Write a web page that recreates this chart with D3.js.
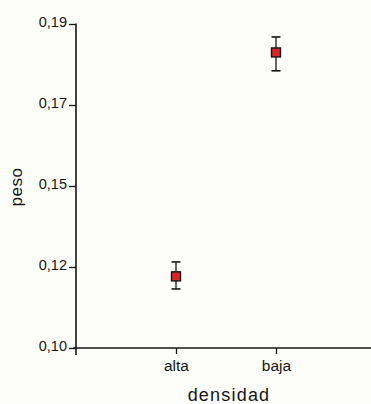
<!DOCTYPE html>
<html><head><meta charset="utf-8">
<script src="https://cdn.jsdelivr.net/npm/d3@7"></script>
<style>body{margin:0;background:#fdfdfa}svg{display:block}</style>
</head><body>
<script>
const categories = ["alta", "baja"];
const means = [0.1199, 0.1821];
const upper = [0.1239, 0.1864];
const lower = [0.1164, 0.1770];
const yTickValues = [0.10, 0.1225, 0.145, 0.1675, 0.19];
const yTickLabels = ["0,10", "0,12", "0,15", "0,17", "0,19"];
const xLabel = "densidad";
const yLabel = "peso";

const W = 371, H = 404;
const svg = d3.select("body").append("svg").attr("width", W).attr("height", H)
  .style("font-family", "'Liberation Sans', Arial, sans-serif");
svg.append("rect").attr("width", W).attr("height", H).attr("fill", "#fdfdfa");

const x0 = 76, yBottom = 348, yTop = 24;
const y = d3.scaleLinear().domain([0.10, 0.19]).range([yBottom, yTop]);
const x = d3.scaleLinear().domain([0, 3]).range([x0, x0 + 300]);
const ink = "#151515";

// y axis
const yAxis = d3.axisLeft(y).tickValues(yTickValues)
  .tickFormat((d, i) => yTickLabels[i]).tickSizeInner(7).tickSizeOuter(0).tickPadding(2);
const gy = svg.append("g").attr("transform", `translate(${x0},0)`).call(yAxis);
gy.select(".domain").remove();
gy.selectAll(".tick line").attr("stroke", ink).attr("stroke-width", 1.3);
gy.selectAll(".tick text").attr("fill", ink).attr("font-size", 14.5).attr("dy", "0.2em");
svg.append("line").attr("x1", x0).attr("x2", x0).attr("y1", yTop - 0.5).attr("y2", yBottom + 7)
  .attr("stroke", ink).attr("stroke-width", 1.6);

// x axis
const xAxis = d3.axisBottom(x).tickValues([1, 2])
  .tickFormat((d) => categories[d - 1]).tickSizeInner(6).tickSizeOuter(0).tickPadding(6);
const gx = svg.append("g").attr("transform", `translate(0,${yBottom})`).call(xAxis);
gx.select(".domain").remove();
gx.selectAll(".tick line").attr("stroke", ink).attr("stroke-width", 1.3);
gx.selectAll(".tick text").attr("fill", ink).attr("font-size", 15.5);
svg.append("line").attr("x1", x0 - 3).attr("x2", W).attr("y1", yBottom).attr("y2", yBottom)
  .attr("stroke", ink).attr("stroke-width", 1.3);

// labels
svg.append("text").attr("x", 229).attr("y", 401).attr("text-anchor", "middle")
  .attr("fill", ink).attr("font-size", 18).style("letter-spacing", "1.2px").text(xLabel);
svg.append("text").attr("transform", `translate(21.5,187) rotate(-90)`).attr("text-anchor", "middle")
  .attr("fill", ink).attr("font-size", 17).style("letter-spacing", "0.5px").text(yLabel);

// error bars and points
const data = categories.map((c, i) => ({ c, i, m: means[i], hi: upper[i], lo: lower[i] }));
const g = svg.append("g");
const cap = 4.5;
data.forEach(d => {
  const cx = x(d.i + 1);
  g.append("line").attr("x1", cx).attr("x2", cx).attr("y1", y(d.hi)).attr("y2", y(d.lo))
    .attr("stroke", ink).attr("stroke-width", 1.3);
  [d.hi, d.lo].forEach(v => g.append("line").attr("x1", cx - cap).attr("x2", cx + cap)
    .attr("y1", y(v)).attr("y2", y(v)).attr("stroke", ink).attr("stroke-width", 1.6));
  g.append("rect").attr("x", cx - 4.5).attr("y", y(d.m) - 4.5).attr("width", 9).attr("height", 9)
    .attr("fill", "#d8262a").attr("stroke", ink).attr("stroke-width", 1.4);
});
</script>
</body></html>
